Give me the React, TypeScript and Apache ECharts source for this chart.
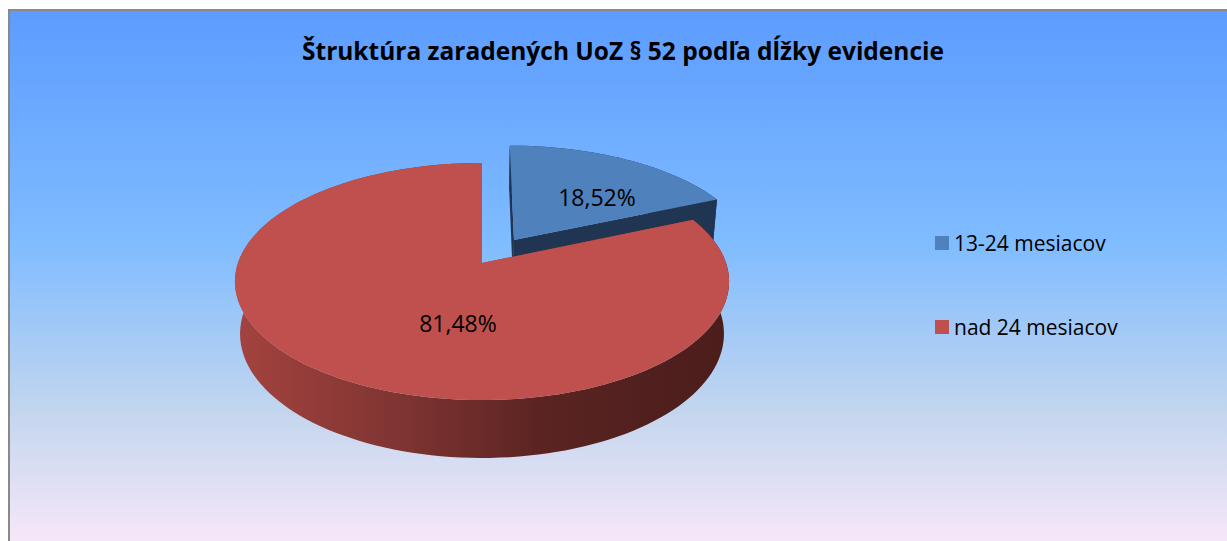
import React, { useEffect, useRef } from "react";
import * as echarts from "echarts";

// ---- data ----
const categories = ["13-24 mesiacov", "nad 24 mesiacov"];
const values = [5, 22];
const sliceColors = ["#4F81BD", "#C0504D"];
const titleText = "Štruktúra zaradených UoZ § 52 podľa dĺžky evidencie";

// ---- 3D projection (style) ----
const S = 0.474; // sin of tilt
const C = 0.88; // cos of tilt
const D = 5.63; // camera distance
const F = 1374; // focal scale
const DEPTH = 0.246; // pie thickness
const CX = 472;
const CY = 252;
const EXPLODE = [0.246, 0];
const LABEL_POS = [
  [0.633, 0.569],
  [0.423, 0.489],
];
const FONT = "'Open Sans', 'Noto Sans', sans-serif";

function proj(X: number, Z: number, H: number): number[] {
  const depth = D - H * S - Z * C;
  return [CX + (X * F) / depth, CY + ((Z * S - H * C) * F) / depth];
}

const total = values.reduce((a, b) => a + b, 0);

function makeRenderItem(idx: number) {
  return (params: any, api: any) => {
    const v = api.value(0);
    let before = 0;
    for (let i = 0; i < idx; i++) before += values[i];
    const a = (before / total) * Math.PI * 2;
    const b = ((before + v) / total) * Math.PI * 2;
    const mid = (a + b) / 2;
    const e = EXPLODE[idx];
    const X0 = e * Math.sin(mid);
    const Z0 = -e * Math.cos(mid);
    const pt = (t: number, r: number, H: number) =>
      proj(X0 + r * Math.sin(t), Z0 - r * Math.cos(t), H);
    const N = Math.max(8, Math.ceil(((b - a) / (Math.PI * 2)) * 180));
    const topArc: number[][] = [];
    const botArc: number[][] = [];
    for (let k = 0; k <= N; k++) {
      const t = a + ((b - a) * k) / N;
      topArc.push(pt(t, 1, 0));
      botArc.push(pt(t, 1, -DEPTH));
    }
    const band = topArc.concat(botArc.slice().reverse());
    const isRed = idx === 1;
    const sideFill = isRed
      ? new echarts.graphic.LinearGradient(0, 0, 1, 0, [
          { offset: 0, color: "#A4433F" },
          { offset: 0.34, color: "#7E3432" },
          { offset: 0.62, color: "#5A2422" },
          { offset: 1, color: "#4A1D1B" },
        ])
      : "#1F3552";
    const faceFill = isRed ? "#7E3432" : "#1F3552";
    const faceA = [pt(a, 0, 0), pt(a, 1, 0), pt(a, 1, -DEPTH), pt(a, 0, -DEPTH)];
    const faceB = [pt(b, 0, 0), pt(b, 1, 0), pt(b, 1, -DEPTH), pt(b, 0, -DEPTH)];
    const top = [pt(a, 0, 0)].concat(topArc);
    const [lf, lr] = LABEL_POS[idx];
    const lp = pt(a + (b - a) * lf, lr, 0);
    const pct = ((v / total) * 100).toFixed(2).replace(".", ",") + "%";
    return {
      type: "group",
      children: [
        { type: "polygon", shape: { points: band }, style: { fill: sideFill } },
        { type: "polygon", shape: { points: faceA }, style: { fill: faceFill } },
        { type: "polygon", shape: { points: faceB }, style: { fill: faceFill } },
        { type: "polygon", shape: { points: top }, style: { fill: sliceColors[idx] } },
        {
          type: "text",
          x: lp[0],
          y: lp[1],
          z2: 10,
          style: {
            text: pct,
            fill: "#000",
            font: `23px ${FONT}`,
            align: "center",
            verticalAlign: "middle",
          },
        },
      ],
    };
  };
}

export default function App() {
  const ref = useRef<HTMLDivElement>(null);
  useEffect(() => {
    if (!ref.current) return;
    const chart = echarts.init(ref.current, undefined, { renderer: "svg" });
    chart.setOption({
      animation: false,
      color: sliceColors,
      backgroundColor: {
        type: "linear",
        x: 0,
        y: 0,
        x2: 0,
        y2: 1,
        colorStops: [
          { offset: 0, color: "#5C9CFF" },
          { offset: 0.44, color: "#80BCFF" },
          { offset: 0.76, color: "#C4D6EE" },
          { offset: 1, color: "#F6E7F8" },
        ],
      },
      graphic: [
        {
          type: "text",
          x: 613,
          y: 39,
          style: {
            text: titleText,
            fill: "#000",
            font: `bold 24.5px ${FONT}`,
            align: "center",
            verticalAlign: "middle",
          },
        },
      ],
      legend: {
        orient: "vertical",
        left: 920,
        top: 215,
        itemWidth: 14,
        itemHeight: 14,
        itemGap: 60,
        icon: "rect",
        data: categories,
        textStyle: { fontFamily: FONT, fontSize: 21, color: "#000", lineHeight: 24 },
      },
      series: categories.map((name, i) => ({
        type: "custom",
        name,
        coordinateSystem: "none",
        itemStyle: { color: sliceColors[i] },
        renderItem: makeRenderItem(i),
        data: [[values[i]]],
      })),
    });
    return () => chart.dispose();
  }, []);
  return (
    <div
      style={{
        position: "absolute",
        left: 8,
        top: 9,
        width: 1219,
        height: 532,
        boxSizing: "border-box",
        borderTop: "2px solid #898989",
        borderLeft: "2px solid #898989",
      }}
    >
      <div ref={ref} style={{ width: 1217, height: 530 }} />
    </div>
  );
}
